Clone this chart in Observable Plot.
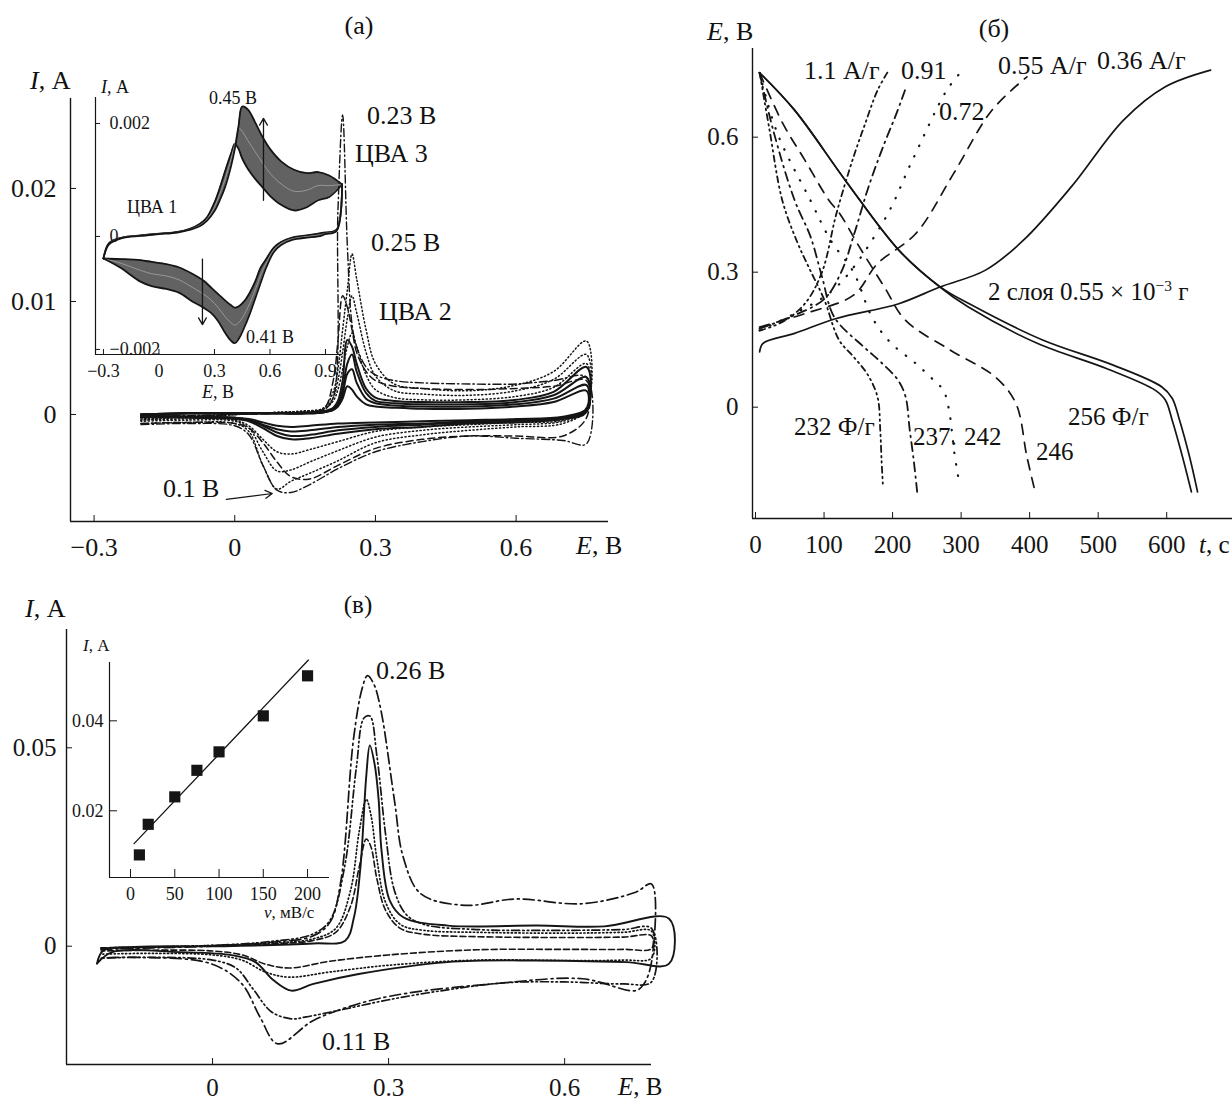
<!DOCTYPE html>
<html><head><meta charset="utf-8">
<script src="https://cdn.jsdelivr.net/npm/d3@7"></script>
<script src="https://cdn.jsdelivr.net/npm/@observablehq/plot@0.6"></script>
<style>
html,body{margin:0;padding:0;background:#fff;}
body{width:1232px;height:1101px;position:relative;overflow:hidden;font-family:"Liberation Serif","Times New Roman",serif;color:#111;}
.layer{position:absolute;}
.layer svg{overflow:visible;}
.lbl{position:absolute;white-space:nowrap;line-height:1;color:#111;}
sup{font-size:0.62em;vertical-align:0;position:relative;top:-0.55em;}
</style></head>
<body>
<script>
// ---------------- Panel (а): main CVs (E, V ; I, A) ----------------
const aUpE = [-0.2, -0.1, 0, 0.1, 0.15, 0.19, 0.21, 0.22, 0.23, 0.24, 0.25, 0.26, 0.28, 0.3, 0.34, 0.4, 0.5, 0.6, 0.68, 0.75];
const aLoE = [0.75, 0.7, 0.6, 0.5, 0.4, 0.3, 0.22, 0.16, 0.12, 0.09, 0.06, 0.03, 0, -0.1, -0.2];
const aSolid1Up = [0, 0.0001, 0.0001, 0.0001, 0.0001, 0.0002, 0.0004, 0.0007, 0.0014, 0.0025, 0.0022, 0.0016, 0.0009, 0.0007, 0.0006, 0.0005, 0.0005, 0.0007, 0.0011, 0.0021];
const aSolid2Up = [0, 0.0001, 0.0001, 0.0001, 0.0001, 0.0002, 0.0004, 0.0008, 0.0018, 0.0036, 0.0040, 0.0028, 0.0014, 0.0010, 0.0008, 0.0007, 0.0007, 0.0009, 0.0014, 0.0026];
const aSolid3Up = [0, 0.0001, 0.0001, 0.0001, 0.0001, 0.0002, 0.0005, 0.0009, 0.0022, 0.0045, 0.0053, 0.0038, 0.0019, 0.0012, 0.0010, 0.0009, 0.0009, 0.0011, 0.0017, 0.0033];
const aSolid4Up = [0, 0.0001, 0.0001, 0.0001, 0.0001, 0.0003, 0.0006, 0.0012, 0.0030, 0.0066, 0.0060, 0.0045, 0.0023, 0.0015, 0.0012, 0.0011, 0.0011, 0.0013, 0.0020, 0.0042];
const aSolid1Lo = [0.0005, -0.0002, -0.0004, -0.0005, -0.0006, -0.0007, -0.0008, -0.0010, -0.0011, -0.0010, -0.0007, -0.0004, -0.0003, -0.0002, -0.0001];
const aSolid2Lo = [0.0004, -0.0003, -0.0005, -0.0006, -0.0008, -0.0009, -0.0011, -0.0014, -0.0015, -0.0013, -0.0009, -0.0005, -0.0003, -0.0002, -0.0001];
const aSolid3Lo = [0.0003, -0.0003, -0.0006, -0.0007, -0.0009, -0.0011, -0.0014, -0.0018, -0.0019, -0.0016, -0.0010, -0.0005, -0.0003, -0.0002, -0.0002];
const aSolid4Lo = [0.0002, -0.0004, -0.0007, -0.0008, -0.0011, -0.0013, -0.0017, -0.0021, -0.0022, -0.0019, -0.0012, -0.0006, -0.0004, -0.0003, -0.0002];
const aDot1Up = [-0.0003, -0.0002, 0, 0.0002, 0.0003, 0.0005, 0.0012, 0.0022, 0.0040, 0.0060, 0.0072, 0.0060, 0.0035, 0.0022, 0.0015, 0.0013, 0.0013, 0.0016, 0.0024, 0.0045];
const aDot2Up = [-0.0004, -0.0002, 0, 0.0002, 0.0003, 0.0005, 0.0015, 0.0030, 0.0055, 0.0085, 0.0105, 0.0090, 0.0055, 0.0034, 0.0021, 0.0018, 0.0017, 0.0021, 0.0031, 0.0053];
const aDot3Up = [-0.0005, -0.0002, 0, 0.0002, 0.0003, 0.0006, 0.0020, 0.0040, 0.0075, 0.0110, 0.0142, 0.0120, 0.0075, 0.0045, 0.0027, 0.0023, 0.0021, 0.0026, 0.0038, 0.0065];
const aDot1Lo = [0.0006, -0.0005, -0.0007, -0.0009, -0.0011, -0.0015, -0.0024, -0.0031, -0.0035, -0.0033, -0.0022, -0.0010, -0.0005, -0.0004, -0.0005];
const aDot2Lo = [0.0004, -0.0006, -0.0009, -0.0011, -0.0014, -0.0020, -0.0032, -0.0042, -0.0049, -0.0050, -0.0033, -0.0012, -0.0006, -0.0005, -0.0006];
const aDot3Lo = [0.0005, -0.0008, -0.0011, -0.0014, -0.0018, -0.0025, -0.0041, -0.0052, -0.0059, -0.0066, -0.0045, -0.0015, -0.0008, -0.0007, -0.0008];
const aDashUp = [-0.0003, -0.0002, 0, 0.0001, 0.0002, 0.0005, 0.0030, 0.0065, 0.0105, 0.0095, 0.0075, 0.0055, 0.0038, 0.0030, 0.0025, 0.0023, 0.0022, 0.0023, 0.0025, 0.0030];
const aDashLo = [-0.0003, -0.0019, -0.0019, -0.0019, -0.0022, -0.0030, -0.0045, -0.0057, -0.0055, -0.0042, -0.0025, -0.0012, -0.0008, -0.0007, -0.0008];
const aDashDotUp = [-0.0002, -0.0001, 0, 0.0001, 0.0002, 0.0004, 0.0015, 0.0180, 0.0265, 0.0150, 0.0080, 0.0060, 0.0042, 0.0035, 0.0030, 0.0028, 0.0027, 0.0027, 0.0030, 0.0033];
const aDashDotLo = [-0.0026, -0.0023, -0.0021, -0.0019, -0.0024, -0.0033, -0.0048, -0.0062, -0.0069, -0.0067, -0.0045, -0.0018, -0.0010, -0.0008, -0.0009];
const aArrow = [{E1: -0.018, I1: -0.00752, E2: 0.080, I2: -0.00699}];
const aXDomain = [-0.3503, 0.797], aYDomain = [-0.00947, 0.02796];
const aXTicks = [-0.3, 0, 0.3, 0.6], aYTicks = [0, 0.01, 0.02];

// ---------------- Panel (а) inset: 30 CV cycles ----------------
const cvUpE = [-0.3, -0.27, -0.2, -0.1, 0, 0.1, 0.17, 0.22, 0.26, 0.3, 0.33, 0.36, 0.39, 0.41, 0.43, 0.45, 0.48, 0.52, 0.56, 0.6, 0.66, 0.73, 0.8, 0.86, 0.92, 0.99];
const cvUpFirst = [-0.00039, -0.00012, -0.00002, 0.00002, 0.00005, 0.00008, 0.00014, 0.00022, 0.00034, 0.0006, 0.00087, 0.00118, 0.00147, 0.00164, 0.00155, 0.00138, 0.0012, 0.00102, 0.00087, 0.00072, 0.00056, 0.00046, 0.00052, 0.00064, 0.0007, 0.00092];
const cvUpMid = [-0.00039, -0.00013, -0.000025, 0.000015, 0.000045, 0.000075, 0.00013, 0.0002, 0.00031, 0.00052, 0.00076, 0.00104, 0.00138, 0.00165, 0.00192, 0.00186, 0.0017, 0.0015, 0.0013, 0.00112, 0.00093, 0.0008, 0.00082, 0.0009, 0.0009, 0.00092];
const cvUpLast = [-0.00039, -0.00014, -0.00003, 0.00001, 0.00004, 0.00007, 0.00012, 0.00018, 0.00028, 0.00045, 0.00065, 0.0009, 0.00125, 0.00155, 0.00195, 0.0023, 0.00225, 0.00202, 0.00176, 0.00155, 0.00133, 0.00118, 0.00112, 0.00114, 0.00108, 0.00092];
const cvLoE = [0.99, 0.96, 0.9, 0.86, 0.8, 0.72, 0.66, 0.62, 0.58, 0.55, 0.52, 0.49, 0.46, 0.43, 0.41, 0.39, 0.36, 0.32, 0.28, 0.24, 0.18, 0.11, 0.04, -0.04, -0.1, -0.21, -0.3];
const cvLoFirst = [0.00092, 0.00012, 0.00007, 0.00005, 0.00002, -0.00002, -0.0001, -0.0002, -0.0004, -0.00055, -0.0008, -0.001, -0.00115, -0.00124, -0.00126, -0.00122, -0.00114, -0.00102, -0.0009, -0.00078, -0.00066, -0.00055, -0.00049, -0.00045, -0.00042, -0.0004, -0.00039];
const cvLoMid = [0.00092, 0.00011, 0.000055, 0.000025, 0, -0.00004, -0.00012, -0.00024, -0.00047, -0.00068, -0.00095, -0.00119, -0.00139, -0.00153, -0.00157, -0.00153, -0.00143, -0.00126, -0.00112, -0.00102, -0.0009, -0.00077, -0.0007, -0.00066, -0.0006, -0.00047, -0.00039];
const cvLoLast = [0.00092, 0.0001, 0.00004, 0, -0.00002, -0.00006, -0.00015, -0.00028, -0.00055, -0.00082, -0.0011, -0.00138, -0.00162, -0.00182, -0.00189, -0.00185, -0.00172, -0.0015, -0.00135, -0.00126, -0.00115, -0.001, -0.00093, -0.00088, -0.0008, -0.00055, -0.00039];
const cvArrows = [{E: 0.565, I1: 0.00064, I2: 0.00209}, {E: 0.235, I1: -0.0004, I2: -0.00156}];
const iaXDomain = [-0.343, 0.992], iaYDomain = [-0.00209, 0.00246];
const iaXTicks = [-0.3, 0, 0.3, 0.6, 0.9], iaYTicks = [-0.002, 0, 0.002];

// ---------------- Panel (б): galvanostatic charge/discharge (t, s ; E, V) ----------------
const ch036T = [6, 11, 57, 118, 209, 269, 335, 391, 461, 537, 598, 664];
const ch036E = [0.123, 0.142, 0.164, 0.197, 0.230, 0.267, 0.304, 0.371, 0.490, 0.638, 0.712, 0.749];
const dis256T = [6, 57, 133, 209, 269, 310, 411, 512, 583, 598, 608, 623, 636];
const dis256E = [0.743, 0.660, 0.500, 0.349, 0.267, 0.223, 0.142, 0.086, 0.038, 0.016, -0.029, -0.110, -0.188];
const dis256bT = [6, 57, 133, 209, 269, 314, 418, 521, 593, 608, 618, 633, 645];
const dis256bE = [0.743, 0.660, 0.500, 0.349, 0.268, 0.228, 0.150, 0.094, 0.045, 0.020, -0.025, -0.108, -0.188];
const ch055T = [6, 72, 143, 178, 234, 289, 345, 396];
const ch055E = [0.178, 0.208, 0.249, 0.319, 0.386, 0.519, 0.660, 0.734];
const dis246T = [6, 40, 72, 107, 123, 150, 188, 219, 284, 350, 380, 396, 408];
const dis246E = [0.743, 0.630, 0.549, 0.460, 0.430, 0.360, 0.267, 0.193, 0.127, 0.067, 0.008, -0.110, -0.188];
const ch072T = [6, 57, 118, 188, 229, 279, 300];
const ch072E = [0.171, 0.208, 0.267, 0.416, 0.549, 0.704, 0.745];
const dis242T = [6, 32, 80, 110, 143, 170, 196, 234, 260, 274, 282, 290, 297];
const dis242E = [0.743, 0.608, 0.460, 0.370, 0.300, 0.200, 0.145, 0.097, 0.060, 0.038, -0.003, -0.100, -0.166];
const ch091T = [6, 50, 100, 125, 145, 165, 188, 205, 219];
const ch091E = [0.175, 0.200, 0.240, 0.300, 0.390, 0.490, 0.586, 0.650, 0.708];
const dis237T = [6, 25, 57, 80, 97, 115, 158, 183, 208, 219, 225, 231, 236];
const dis237E = [0.743, 0.620, 0.460, 0.380, 0.290, 0.200, 0.134, 0.100, 0.060, 0.023, -0.050, -0.120, -0.190];
const ch11T = [6, 40, 72, 97, 118, 143, 160, 178, 193];
const ch11E = [0.170, 0.190, 0.230, 0.300, 0.430, 0.556, 0.630, 0.704, 0.745];
const dis232T = [6, 20, 39, 60, 78, 100, 122, 143, 163, 178, 182, 184, 186];
const dis232E = [0.743, 0.620, 0.460, 0.370, 0.310, 0.240, 0.149, 0.112, 0.074, 0.023, -0.050, -0.120, -0.176];
const bXDomain = [-4.4, 696], bYDomain = [-0.2473, 0.797];
const bXTicks = [0, 100, 200, 300, 400, 500, 600], bYTicks = [0, 0.3, 0.6];

// ---------------- Panel (в): CVs at different scan rates ----------------
const vSolidE = [-0.197, -0.186, -0.133, 0.02, 0.172, 0.226, 0.241, 0.252, 0.262, 0.268, 0.276, 0.283, 0.288, 0.302, 0.325, 0.401, 0.554, 0.668, 0.778, 0.778, 0.706, 0.554, 0.400, 0.249, 0.172, 0.134, 0.104, 0.073, 0.035, -0.056, -0.171, -0.197];
const vSolidI = [-0.0044, -0.0011, -0.0002, 0.0000, 0.0007, 0.0014, 0.0073, 0.0199, 0.0430, 0.0506, 0.0460, 0.0370, 0.0240, 0.0115, 0.0073, 0.0052, 0.0052, 0.0050, 0.0069, -0.0044, -0.0040, -0.0036, -0.0040, -0.0070, -0.0095, -0.0112, -0.0086, -0.0040, -0.0023, -0.0015, -0.0015, -0.0044];
const vDashDotE = [-0.19, -0.1, 0.0, 0.1, 0.17, 0.2, 0.218, 0.24, 0.255, 0.264, 0.275, 0.287, 0.31, 0.325, 0.355, 0.431, 0.515, 0.63, 0.721, 0.748, 0.748, 0.735, 0.721, 0.63, 0.477, 0.325, 0.249, 0.172, 0.111, 0.081, 0.05, -0.003, -0.133, -0.19];
const vDashDotI = [-0.0008, -0.0004, 0.0000, 0.0010, 0.0025, 0.0060, 0.0158, 0.0520, 0.0650, 0.0682, 0.0660, 0.0594, 0.0367, 0.0224, 0.0132, 0.0103, 0.0119, 0.0107, 0.0136, 0.0157, -0.0040, -0.0095, -0.0112, -0.0082, -0.0095, -0.0120, -0.0145, -0.0187, -0.0246, -0.0179, -0.0095, -0.0044, -0.0028, -0.0030];
const vDashDot2E = [-0.19, -0.1, 0, 0.1, 0.17, 0.2, 0.225, 0.245, 0.258, 0.268, 0.28, 0.295, 0.31, 0.33, 0.36, 0.45, 0.6, 0.7, 0.748, 0.748, 0.7, 0.6, 0.5, 0.4, 0.3, 0.22, 0.16, 0.134, 0.1, 0.07, 0.04, 0, -0.1, -0.19];
const vDashDot2I = [-0.0005, -0.0002, 0.0002, 0.0012, 0.0030, 0.0065, 0.0200, 0.0450, 0.0575, 0.0580, 0.0480, 0.0280, 0.0140, 0.0080, 0.0055, 0.0042, 0.0040, 0.0042, 0.0045, -0.0090, -0.0095, -0.0090, -0.0092, -0.0110, -0.0135, -0.0160, -0.0178, -0.0183, -0.0165, -0.0110, -0.0055, -0.0035, -0.0028, -0.0030];
const vSmallE = [-0.19, -0.1, 0, 0.1, 0.17, 0.21, 0.235, 0.25, 0.262, 0.27, 0.28, 0.295, 0.32, 0.36, 0.45, 0.6, 0.7, 0.748, 0.748, 0.7, 0.6, 0.45, 0.3, 0.2, 0.13, 0.09, 0.05, 0, -0.1, -0.19];
const vDotI = [-0.0006, -0.0003, 0.0002, 0.0008, 0.0018, 0.0045, 0.0140, 0.0290, 0.0370, 0.0330, 0.0220, 0.0110, 0.0055, 0.0040, 0.0035, 0.0033, 0.0035, 0.0038, -0.0030, -0.0035, -0.0036, -0.0035, -0.0048, -0.0065, -0.0078, -0.0065, -0.0035, -0.0022, -0.0018, -0.0020];
const vDashI = [-0.0004, -0.0002, 0.0001, 0.0006, 0.0014, 0.0035, 0.0100, 0.0200, 0.0270, 0.0250, 0.0170, 0.0090, 0.0045, 0.0030, 0.0024, 0.0022, 0.0023, 0.0026, -0.0006, -0.0008, -0.0008, -0.0009, -0.0022, -0.0038, -0.0055, -0.0045, -0.0022, -0.0012, -0.0010, -0.0012];
const cXDomain = [-0.2489, 0.748], cYDomain = [-0.02981, 0.07981];
const cXTicks = [0, 0.3, 0.6], cYTicks = [0, 0.05];

// (в) inset: peak current vs scan rate
const scanRate = [10, 20, 50, 75, 100, 150, 200];
const peakI = [0.0102, 0.0170, 0.0231, 0.0290, 0.0331, 0.0411, 0.0500];
const fitRate = [4, 201];
const fitI = [0.0127, 0.0535];
const icXDomain = [-23.76, 224.8], icYDomain = [0.005178, 0.05296];
const icXTicks = [0, 50, 100, 150, 200], icYTicks = [0.02, 0.04];

// ---------------- helpers ----------------
const FONT = '"Liberation Serif", "Times New Roman", serif';
const INK = "#151515";
const fmt = d3.format("~g");
function rows(id, xs, ys) { return xs.map((x, i) => ({id, x, y: ys[i]})); }
function loop(id, upX, up, loX, lo) { return rows(id, upX, up).concat(rows(id, loX, lo)); }
function place(node, left, top) {
  const d = document.createElement("div");
  d.className = "layer"; d.style.left = left + "px"; d.style.top = top + "px";
  d.appendChild(node); document.body.appendChild(d);
}
function style(size) { return {fontFamily: FONT, fontSize: size + "px", color: INK, background: "transparent", overflow: "visible"}; }
function frameLines(xd, yd, w) {
  return [Plot.ruleX([xd[0]], {stroke: INK, strokeWidth: w}), Plot.ruleY([yd[0]], {stroke: INK, strokeWidth: w})];
}

// ---------------- draw (а) ----------------
const aSolid = [].concat(
  loop("s1", aUpE, aSolid1Up, aLoE, aSolid1Lo), loop("s2", aUpE, aSolid2Up, aLoE, aSolid2Lo),
  loop("s3", aUpE, aSolid3Up, aLoE, aSolid3Lo), loop("s4", aUpE, aSolid4Up, aLoE, aSolid4Lo));
const aDot = [].concat(loop("d1", aUpE, aDot1Up, aLoE, aDot1Lo), loop("d2", aUpE, aDot2Up, aLoE, aDot2Lo), loop("d3", aUpE, aDot3Up, aLoE, aDot3Lo));
const aDash = loop("ds", aUpE, aDashUp, aLoE, aDashLo);
const aDashDot = loop("dd", aUpE, aDashDotUp, aLoE, aDashDotLo);

place(Plot.plot({
  width: 620, height: 560, marginLeft: 70, marginRight: 12, marginTop: 98, marginBottom: 39,
  x: {domain: aXDomain}, y: {domain: aYDomain}, style: style(26),
  marks: [
    ...frameLines(aXDomain, aYDomain, 1.4),
    Plot.axisX({ticks: aXTicks, tickSize: -6, tickPadding: 22, tickFormat: fmt, label: null, stroke: INK}),
    Plot.axisY({ticks: aYTicks, tickSize: -6, tickPadding: 20, tickFormat: fmt, label: null, stroke: INK}),
    Plot.line(aDot, {x: "x", y: "y", z: "id", stroke: INK, strokeWidth: 1.5, strokeDasharray: "1.2,2.6", strokeLinecap: "round", curve: "catmull-rom"}),
    Plot.line(aDash, {x: "x", y: "y", z: "id", stroke: INK, strokeWidth: 1.5, strokeDasharray: "7,4", curve: "catmull-rom"}),
    Plot.line(aDashDot, {x: "x", y: "y", z: "id", stroke: INK, strokeWidth: 1.4, strokeDasharray: "8,3,1.5,3", curve: "catmull-rom"}),
    Plot.line(aSolid, {x: "x", y: "y", z: "id", stroke: INK, strokeWidth: 2, curve: "catmull-rom"}),
    Plot.arrow(aArrow, {x1: "E1", y1: "I1", x2: "E2", y2: "I2", stroke: INK, strokeWidth: 1.2, headLength: 10})
  ]
}), 0, 0);

const cvUp = cvUpE.map((E, i) => ({E, first: cvUpFirst[i], mid: cvUpMid[i], last: cvUpLast[i]}));
const cvLo = cvLoE.map((E, i) => ({E, first: cvLoFirst[i], mid: cvLoMid[i], last: cvLoLast[i]}));
place(Plot.plot({
  width: 360, height: 400, marginLeft: 95, marginRight: 18, marginTop: 97, marginBottom: 46,
  x: {domain: iaXDomain}, y: {domain: iaYDomain}, style: style(18),
  marks: [
    ...frameLines(iaXDomain, iaYDomain, 1.2),
    Plot.axisX({ticks: iaXTicks, tickSize: -5, tickPadding: 15, tickFormat: fmt, label: null}),
    Plot.axisY({ticks: iaYTicks, tickSize: -5, tickPadding: -9, textAnchor: "start", tickFormat: fmt, label: null}),
    Plot.areaY(cvUp, {x: "E", y1: "first", y2: "last", fill: "#262626", fillOpacity: 0.72, curve: "catmull-rom"}),
    Plot.areaY(cvLo, {x: "E", y1: "first", y2: "last", fill: "#262626", fillOpacity: 0.72, curve: "catmull-rom"}),
    ...["first", "mid", "last"].flatMap(k => [
      Plot.line(cvUp, {x: "E", y: k, stroke: k === "mid" ? "#bbb" : INK, strokeWidth: k === "mid" ? 0.6 : 1.8, curve: "catmull-rom"}),
      Plot.line(cvLo, {x: "E", y: k, stroke: k === "mid" ? "#bbb" : INK, strokeWidth: k === "mid" ? 0.6 : 1.8, curve: "catmull-rom"})
    ]),
    Plot.arrow(cvArrows, {x1: "E", y1: "I1", x2: "E", y2: "I2", stroke: INK, strokeWidth: 1.3, headLength: 9})
  ]
}), 0, 0);

// ---------------- draw (б) ----------------
const bSolid = [].concat(rows("c036", ch036T, ch036E), rows("d256", dis256T, dis256E), rows("d256b", dis256bT, dis256bE));
const bDash = [].concat(rows("c055", ch055T, ch055E), rows("d246", dis246T, dis246E));
const bDot = [].concat(rows("c072", ch072T, ch072E), rows("d242", dis242T, dis242E));
const bDashDot = [].concat(rows("c091", ch091T, ch091E), rows("d237", dis237T, dis237E));
const bDashDot2 = [].concat(rows("c11", ch11T, ch11E), rows("d232", dis232T, dis232E));
place(Plot.plot({
  width: 542, height: 560, marginLeft: 62, marginRight: 0, marginTop: 48, marginBottom: 42,
  x: {domain: bXDomain}, y: {domain: bYDomain}, style: style(25),
  marks: [
    ...frameLines(bXDomain, bYDomain, 1.4),
    Plot.axisX({ticks: bXTicks, tickSize: -6, tickPadding: 23, tickFormat: fmt, label: null}),
    Plot.axisY({ticks: bYTicks, tickSize: -6, tickPadding: 20, tickFormat: fmt, label: null}),
    Plot.line(bSolid, {x: "x", y: "y", z: "id", stroke: INK, strokeWidth: 1.7, curve: "catmull-rom"}),
    Plot.line(bDash, {x: "x", y: "y", z: "id", stroke: INK, strokeWidth: 1.7, strokeDasharray: "10,8", curve: "catmull-rom"}),
    Plot.line(bDot, {x: "x", y: "y", z: "id", stroke: INK, strokeWidth: 2.2, strokeDasharray: "0.5,11", strokeLinecap: "round", curve: "catmull-rom"}),
    Plot.line(bDashDot, {x: "x", y: "y", z: "id", stroke: INK, strokeWidth: 1.8, strokeDasharray: "9,5,1.5,5", curve: "catmull-rom"}),
    Plot.line(bDashDot2, {x: "x", y: "y", z: "id", stroke: INK, strokeWidth: 1.8, strokeDasharray: "6,4,1.5,4,1.5,4", curve: "catmull-rom"})
  ]
}), 690, 0);

// ---------------- draw (в) ----------------
const cSolid = rows("sol", vSolidE, vSolidI);
place(Plot.plot({
  width: 680, height: 501, marginLeft: 66, marginRight: 29, marginTop: 29, marginBottom: 37,
  x: {domain: cXDomain}, y: {domain: cYDomain}, style: style(25),
  marks: [
    ...frameLines(cXDomain, cYDomain, 1.4),
    Plot.axisX({ticks: cXTicks, tickSize: -6, tickPadding: 20, tickFormat: fmt, label: null}),
    Plot.axisY({ticks: cYTicks, tickSize: -6, tickPadding: 16, tickFormat: fmt, label: null}),
    Plot.line(rows("dash", vSmallE, vDashI), {x: "x", y: "y", stroke: INK, strokeWidth: 1.6, strokeDasharray: "6,3", curve: "catmull-rom"}),
    Plot.line(rows("dot", vSmallE, vDotI), {x: "x", y: "y", stroke: INK, strokeWidth: 1.7, strokeDasharray: "1.2,2.6", strokeLinecap: "round", curve: "catmull-rom"}),
    Plot.line(rows("dd2", vDashDot2E, vDashDot2I), {x: "x", y: "y", stroke: INK, strokeWidth: 1.7, strokeDasharray: "8,3,1.5,3,1.5,3", curve: "catmull-rom"}),
    Plot.line(rows("dd", vDashDotE, vDashDotI), {x: "x", y: "y", stroke: INK, strokeWidth: 1.7, strokeDasharray: "11,4,2,4", curve: "catmull-rom"}),
    Plot.line(cSolid, {x: "x", y: "y", stroke: INK, strokeWidth: 1.9, curve: "catmull-rom"})
  ]
}), 0, 600);

const rateRows = scanRate.map((v, i) => ({v, I: peakI[i]}));
const fitRows = fitRate.map((v, i) => ({v, I: fitI[i]}));
place(Plot.plot({
  width: 340, height: 330, marginLeft: 109, marginRight: 11, marginTop: 62, marginBottom: 53,
  x: {domain: icXDomain}, y: {domain: icYDomain}, style: style(18),
  marks: [
    ...frameLines(icXDomain, icYDomain, 1.2),
    Plot.axisX({ticks: icXTicks, tickSize: -8, tickPadding: 18, tickFormat: fmt, label: null}),
    Plot.axisY({ticks: icYTicks, tickSize: -8, tickPadding: 14, tickFormat: fmt, label: null}),
    Plot.line(fitRows, {x: "v", y: "I", stroke: INK, strokeWidth: 1.3}),
    Plot.dot(rateRows, {x: "v", y: "I", symbol: "square", r: 6.3, fill: INK, stroke: "none"})
  ]
}), 0, 600);

// ---------------- text ----------------
const labels = [
  // panel (а)
  ["(а)", 359, 27, 26, "middle"],
  ["<i>I</i>, А", 30, 82, 26, "start"],
  ["0.23 В", 367, 117, 26, "start"],
  ["ЦВА 3", 355, 155, 26, "start"],
  ["0.25 В", 371, 244, 26, "start"],
  ["ЦВА 2", 379, 313, 26, "start"],
  ["0.1 В", 163, 490, 26, "start"],
  ["<i>E</i>, В", 576, 547, 26, "start"],
  ["<i>I</i>, А", 101, 87, 18, "start"],
  ["0.45 В", 209, 98, 18, "start"],
  ["ЦВА 1", 127, 207, 18, "start"],
  ["0.41 В", 246, 337, 18, "start"],
  ["<i>E</i>, В", 218, 392, 18, "middle"],
  // panel (б)
  ["(б)", 994, 30, 26, "middle"],
  ["<i>E</i>, В", 707, 33, 26, "start"],
  ["1.1 А/г", 804, 72, 26, "start"],
  ["0.91", 901, 72, 26, "start"],
  ["0.72", 939, 113, 26, "start"],
  ["0.55 А/г", 998, 67, 26, "start"],
  ["0.36 А/г", 1097, 62, 26, "start"],
  ["2 слоя 0.55 × 10<sup>−3</sup> г", 988, 292, 25, "start"],
  ["232 Ф/г", 794, 427, 25, "start"],
  ["237.", 913, 437, 25, "start"],
  ["242", 964, 437, 25, "start"],
  ["246", 1036, 452, 25, "start"],
  ["256 Ф/г", 1068, 417, 25, "start"],
  ["<i>t</i>, с", 1199, 545, 25, "start"],
  // panel (в)
  ["(в)", 358, 605, 25, "middle"],
  ["<i>I</i>, А", 25, 610, 26, "start"],
  ["<i>I</i>, А", 83, 646, 17, "start"],
  ["0.26 В", 376, 672, 26, "start"],
  ["0.11 В", 322, 1043, 26, "start"],
  ["<i>v</i>, мВ/с", 264, 913, 17, "start"],
  ["<i>E</i>, В", 618, 1087, 25, "start"]
];
for (const [html, x, y, size, anchor] of labels) {
  const d = document.createElement("div");
  d.className = "lbl";
  d.innerHTML = html;
  d.style.left = x + "px"; d.style.top = y + "px"; d.style.fontSize = size + "px";
  d.style.transform = `translate(${anchor === "middle" ? "-50%" : anchor === "end" ? "-100%" : "0"}, -52%)`;
  document.body.appendChild(d);
}
</script>
</body></html>
